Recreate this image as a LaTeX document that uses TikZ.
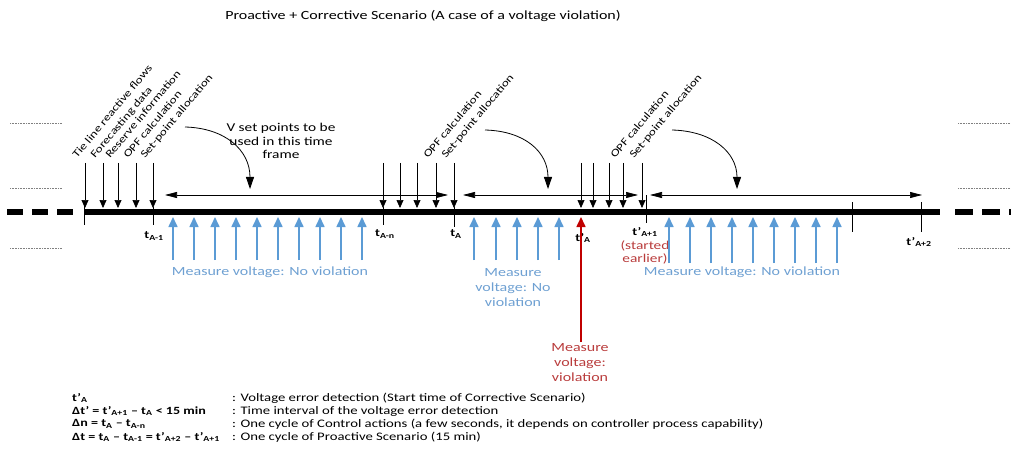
\documentclass[tikz,border=0pt]{standalone}
\usepackage{fontspec}
\setmainfont{Carlito}[FakeStretch=1.28]
\usetikzlibrary{calc, arrows.meta}
\definecolor{measblue}{RGB}{91,155,213}
\definecolor{measbluetext}{RGB}{110,160,210}
\definecolor{violred}{RGB}{192,0,0}
\definecolor{violtext}{RGB}{185,60,60}

\begin{document}
\begin{tikzpicture}[x=1pt,y=-1pt,
    inarrow/.style={-{Triangle[width=7pt,length=8pt]},line width=0.7pt},
    spanarrow/.style={{Triangle[width=6pt,length=12pt]}-{Triangle[width=6pt,length=12pt]},line width=0.7pt},
    bendarrow/.style={-{Triangle[width=8pt,length=12pt]},line width=0.8pt},
    bluearrow/.style={measblue,line width=1.6pt,-{Triangle[width=9pt,length=10pt]}},
    tickline/.style={line width=1pt},
    dotline/.style={gray,densely dotted,line width=0.6pt},
    steplabel/.style={rotate=50,anchor=base west,font=\fontsize{10.5}{12}\selectfont,inner sep=0pt},
    tlabel/.style={font=\bfseries\fontsize{11}{12}\selectfont,inner sep=0pt},
    bluetext/.style={measbluetext,align=center,font=\fontsize{12.5}{15}\selectfont},
    legend/.style={anchor=west,inner sep=0pt,font=\fontsize{11.5}{13}\selectfont},
    legendkey/.style={legend,font=\bfseries\fontsize{11}{13}\selectfont}]
\useasboundingbox (0,0) rectangle (1011,449);

\node (title) at (423,16) {\fontsize{12.5}{14}\selectfont Proactive + Corrective Scenario (A case of a voltage violation)};

\foreach \y in {123,188,248} {
    \draw[dotline] (10,\y) -- (62,\y);
    \draw[dotline] (958,\y) -- (1011,\y);
}

\draw[line width=6.5pt] (84,212) -- (940,212);
\draw[line width=6.5pt,dash pattern=on 16pt off 9pt] (7,212) -- (73,212);
\draw[line width=6.5pt,dash pattern=on 18pt off 9pt] (955,212) -- (1011,212);

\draw[tickline] (84,203) -- (84,225);
\draw[tickline] (153,207) -- (153,225);
\draw[tickline] (383,207) -- (383,225);
\draw[tickline] (454,207) -- (454,227);
\draw[tickline] (646,195) -- (646,223);
\draw[tickline] (852,202) -- (852,232);
\draw[tickline] (921,202) -- (921,232);

\node[tlabel] (tam1) at (154,236) {t\textsubscript{A-1}};
\node[tlabel] (tamn) at (385,234) {t\textsubscript{A-n}};
\node[tlabel] (ta) at (456,234) {t\textsubscript{A}};
\node[tlabel] (tpa) at (583,238) {t’\textsubscript{A}};
\node[tlabel] (tpap1) at (645,232) {t’\textsubscript{A+1}};
\node[violtext,align=center,font=\fontsize{12}{13}\selectfont] (early) at (645,252) {(started\\earlier)};
\node[tlabel] (tpap2) at (919,242) {t’\textsubscript{A+2}};

\draw[spanarrow] (165,195) -- (448,195);
\draw[spanarrow] (463,195) -- (638,195);
\draw[spanarrow] (650,195) -- (922,195);

\foreach \x in {85,103,118,136,153,383,400,417,436,454,581,593,609,623,642}
    \draw[inarrow] (\x,163) -- (\x,208);

\node[steplabel] (tie) at (77,159) {Tie line reactive flows};
\node[steplabel] (fore) at (95,159) {Forecasting data};
\node[steplabel] (res) at (110,159) {Reserve information};
\node[steplabel] (opfa) at (128,159) {OPF calculation};
\node[steplabel] (spa) at (145,159) {Set-point allocation};
\node[steplabel] (opfb) at (428,159) {OPF calculation};
\node[steplabel] (spb) at (446,159) {Set-point allocation};
\node[steplabel] (opfc) at (615,159) {OPF calculation};
\node[steplabel] (spc) at (634,159) {Set-point allocation};

\node[align=center,font=\fontsize{12}{13.5}\selectfont] (vset) at (281,141) {V set points to be\\used in this time\\frame};

\coordinate (ca) at (250,189);
\coordinate (cb) at (548,189);
\coordinate (cc) at (737,189);
\draw[bendarrow] (185,127) .. controls (225,128) and (250,150) .. (ca);
\draw[bendarrow] (485,130) .. controls (525,131) and (548,152) .. (cb);
\draw[bendarrow] (672,130) .. controls (712,131) and (737,152) .. (cc);

\foreach \i in {0,...,9}
    \draw[bluearrow] ({173+21*\i},260) -- ({173+21*\i},217);
\foreach \x in {474,496,517,538,559}
    \draw[bluearrow] (\x,260) -- (\x,217);
\foreach \i in {0,...,8}
    \draw[bluearrow] ({669+21*\i},263) -- ({669+21*\i},217);
\draw[violred,line width=1.6pt,-{Triangle[width=9pt,length=10pt]}] (581,342) -- (581,217);

\node[bluetext] (noviola) at (270,272) {Measure voltage: No violation};
\node[bluetext] (noviolb) at (513,288) {Measure\\voltage: No\\violation};
\node[bluetext] (noviolc) at (742,272) {Measure voltage: No violation};
\node[violtext,align=center,font=\fontsize{12.5}{15}\selectfont] (viol) at (580,363) {Measure\\voltage:\\violation};

\node[legendkey] (la) at (72,398) {t’\textsubscript{A}};
\node[legendkey] (lb) at (72,411) {Δt’ = t’\textsubscript{A+1} – t\textsubscript{A} < 15 min};
\node[legendkey] (lc) at (72,424) {Δn = t\textsubscript{A} – t\textsubscript{A-n}};
\node[legendkey] (ld) at (72,437) {Δt = t\textsubscript{A} – t\textsubscript{A-1} = t’\textsubscript{A+2} – t’\textsubscript{A+1}};
\node[legend] (ra) at (232,398) {: Voltage error detection (Start time of Corrective Scenario)};
\node[legend] (rb) at (232,411) {: Time interval of the voltage error detection};
\node[legend] (rc) at (232,424) {: One cycle of Control actions (a few seconds, it depends on controller process capability)};
\node[legend] (rd) at (232,437) {: One cycle of Proactive Scenario (15 min)};
\end{tikzpicture}
\end{document}
